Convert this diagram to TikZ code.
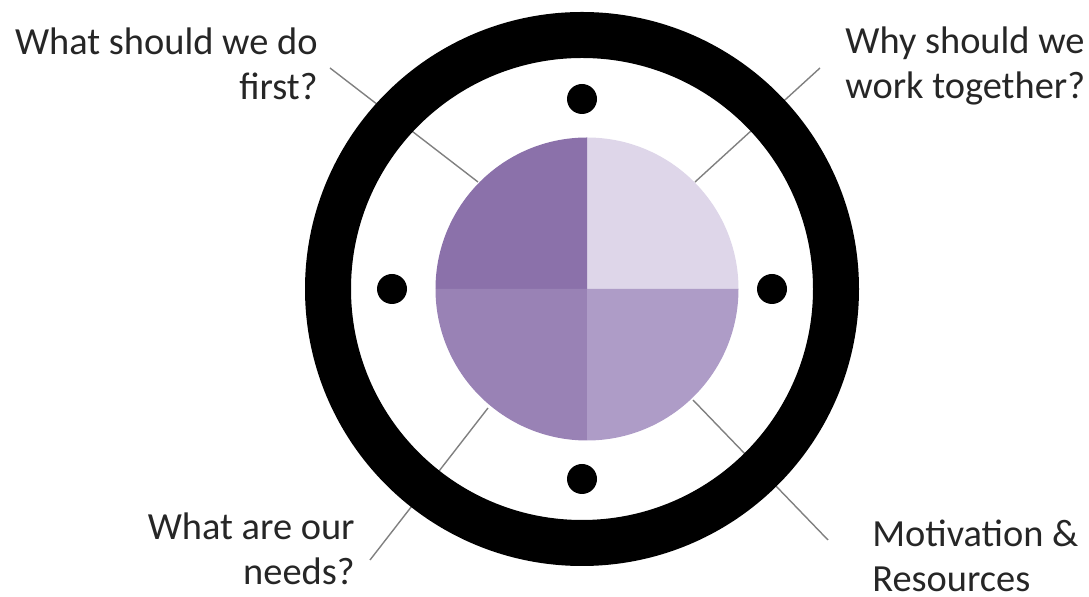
\documentclass[tikz,border=0pt]{standalone}
\usepackage{fontspec}
\setmainfont{Carlito}
\usetikzlibrary{positioning}
\definecolor{qtl}{HTML}{8B71AA}
\definecolor{qtr}{HTML}{DED6E9}
\definecolor{qbl}{HTML}{9982B5}
\definecolor{qbr}{HTML}{AE9CC7}
\definecolor{lead}{gray}{0.5}
\definecolor{txt}{gray}{0.15}

\begin{document}
\begin{tikzpicture}[x=0.5pt,y=0.5pt,
  every node/.style={font=\fontsize{19.2}{22.5}\selectfont,text=txt,inner sep=0pt},
  leader/.style={draw=lead,line width=0.7pt}]
  \useasboundingbox (0,0) rectangle (1089,-597);
  \coordinate (pc) at (587,-289);
  \coordinate (rc) at (582,-289);

  % labels
  \node[align=right,anchor=base east] (first) at (318,-100) {What should we do\\first?};
  \node[align=left,anchor=base west] (together) at (845,-99) {Why should we\\work together?};
  \node[align=right,anchor=base east] (needs) at (355,-585) {What are our\\needs?};
  \node[align=left,anchor=base west] (motive) at (872,-592) {Motivation \&\\Resources};

  % leader lines
  \coordinate (p1) at (478,-182); \coordinate (l1) at (330,-68);
  \coordinate (p2) at (695,-182); \coordinate (l2) at (820,-68);
  \coordinate (p3) at (488,-408); \coordinate (l3) at (370,-560);
  \coordinate (p4) at (693,-400); \coordinate (l4) at (828,-540);
  \foreach \i in {1,...,4}
    \draw[leader] (l\i) -- (p\i);

  % pie
  \foreach \a/\c in {0/qtr,90/qtl,180/qbl,270/qbr}
    \fill[\c] (pc) -- ++(\a:151.5) arc[start angle=\a,delta angle=90,radius=151.5] -- cycle;

  % ring and dots
  \draw[line width=23pt] (rc) circle (254);
  \foreach \a in {0,90,180,270}
    \fill (rc) ++(\a:190) circle (15);
\end{tikzpicture}
\end{document}
